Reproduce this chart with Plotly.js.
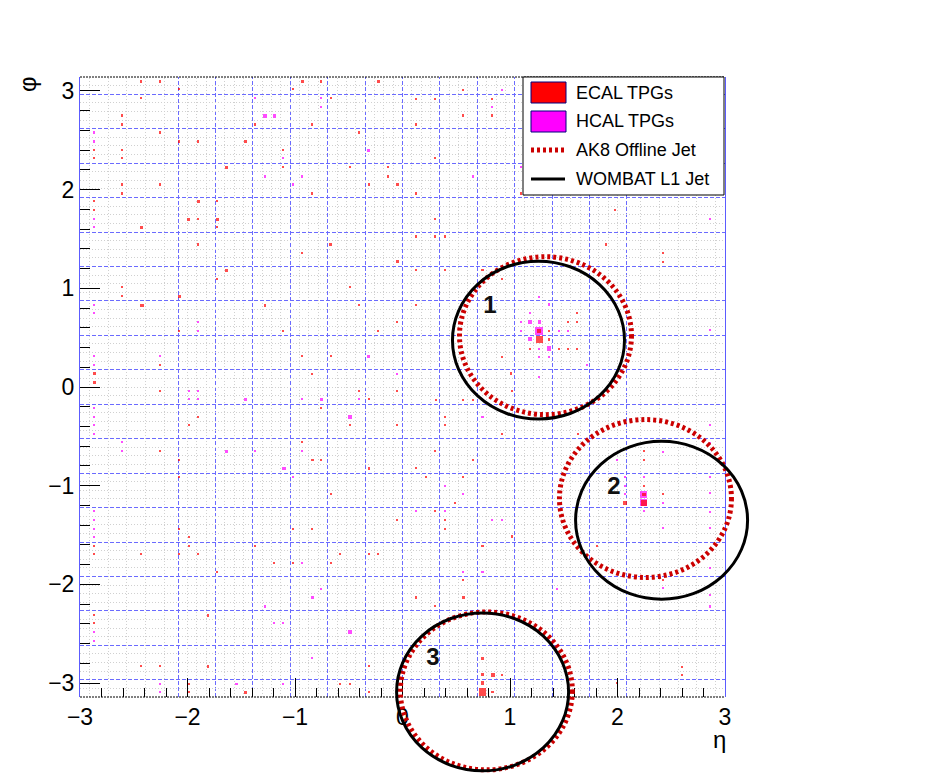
<!DOCTYPE html>
<html>
<head>
<meta charset="utf-8">
<script src="https://cdn.plot.ly/plotly-3.0.1.min.js"></script>
<style>
html,body{margin:0;padding:0;background:#fff;}
#chart{width:948px;height:775px;}
#chart .scatterlayer .point{shape-rendering:crispEdges;}
#chart .layer-subplot .shapelayer path{shape-rendering:crispEdges;}
</style>
</head>
<body>
<div id="chart"></div>
<script>
// ---------------- DATA ----------------
// ECAL trigger primitives: eta, phi, ET (arbitrary units)
const ecalEta = [
  -2.429,-2.253,-0.932,-0.755,-0.225,-2.076,-1.016,-2.429,-0.668,-2.606,
  -2.606,-1.369,-0.839,-2.253,-0.402,-2.076,-1.899,-1.459,-2.867,-2.606,
  -1.109,-2.867,-2.606,-1.636,-1.109,-0.488,-0.132,-0.132,-2.606,-2.253,
  -0.314,-0.048,-2.606,-0.839,-2.867,-1.899,-1.722,-2.867,-1.987,-1.899,
  -1.722,-2.429,-1.722,-1.899,-0.668,-0.932,-0.048,-1.636,-1.722,-2.606,
  -0.488,-2.606,-2.076,-2.423,-1.279,-0.402,-0.048,-2.076,-1.109,-0.225,
  -0.932,-0.668,-2.253,-2.867,-0.839,-2.867,
  -2.253,-0.402,-0.048,-0.314,-0.755,-1.899,-1.987,-0.488,-0.048,-0.932,
  -2.253,-2.076,-0.839,-0.755,-0.314,-2.076,-0.668,-0.048,-2.076,-1.016,
  -0.839,-1.987,-2.867,-1.987,-1.369,-2.867,-2.429,-2.076,-1.899,-0.578,
  -0.314,-0.225,-1.194,-1.016,-0.668,-1.722,-2.867,-1.809,-2.867,-2.429,
  -2.253,-1.809,-0.314,-1.987,-0.578,-0.488,-1.987,-1.459,-0.314,
  0.566,0.126,0.302,0.829,0.566,0.829,0.126,0.302,0.126,1.099,
  1.977,0.302,0.126,0.302,0.395,1.893,2.426,2.426,0.126,0.395,
  0.744,0.923,0.126,
  0.311,0.566,0.653,1.015,0.395,0.395,0.923,0.302,0.653,0.126,
  0.218,0.566,0.488,0.302,0.395,0.395,1.015,0.744,1.636,1.806,
  2.426,2.597,2.597,1.992,0.126,0.302,0.566,0.566,
  1.273,1.273,1.363,1.363,1.186,1.453,1.543,1.620,1.010,0.923,1.620,1.620,1.543,
  2.246,2.246,2.070,2.246,2.426,2.246,2.246,
  0.744,0.744,0.839,0.923,0.744,0.744,0.839
];
const ecalPhi = [
  3.097,3.097,3.097,3.097,3.097,3.016,3.016,2.925,2.925,2.752,
  2.661,2.661,2.661,2.580,2.580,2.489,2.489,2.489,2.398,2.398,
  2.398,2.317,2.317,2.226,2.226,2.226,2.226,2.134,2.053,2.053,
  2.053,2.053,1.962,1.962,1.881,1.881,1.881,1.790,1.699,1.699,
  1.699,1.618,1.618,1.445,1.445,1.354,1.270,1.182,1.091,1.010,
  1.010,0.919,0.919,0.827,0.827,0.827,0.655,0.564,0.564,0.564,
  0.311,0.311,0.220,0.135,0.135,0.047,
  -0.044,-0.044,-0.044,-0.125,-0.216,-0.306,-0.388,-0.388,-0.388,-0.561,
  -0.652,-0.740,-0.740,-0.740,-0.826,-0.915,-1.087,-1.351,-1.442,-1.442,
  -1.442,-1.523,-1.614,-1.614,-1.614,-1.695,-1.695,-1.695,-1.695,-1.695,
  -1.695,-1.695,-1.787,-1.787,-1.787,-1.878,-2.313,-2.313,-2.394,-2.830,
  -2.830,-2.830,-2.830,-3.009,-3.009,-3.009,-3.094,-3.094,-3.094,
  3.013,2.922,2.922,2.922,2.752,2.752,2.661,2.320,1.962,1.962,
  1.790,1.699,1.526,1.526,1.526,1.442,1.358,1.270,1.182,1.182,
  1.182,1.091,0.827,
  -0.128,-0.128,-0.128,-0.044,-0.304,-0.388,-0.480,-0.652,-0.736,-0.821,
  -0.912,-0.912,-1.175,-1.260,-1.351,-1.442,-1.516,-1.614,-0.480,-1.614,
  -1.959,-2.837,-2.915,-2.999,-2.134,-2.222,-1.959,-2.134,
  0.567,0.482,0.567,0.482,0.388,0.388,0.388,0.388,0.140,0.302,0.753,0.659,0.659,
  -1.087,-1.175,-1.175,-1.004,-1.087,-0.736,-0.652,
  -2.752,-2.915,-2.915,-2.915,-2.999,-3.090,-3.090
];
const ecalEt = [
  1,1,1.5,1,1.5,1,1,1,1,1,
  1,1,1,1,1,1,1,1.5,1,1,
  1,1,1,1.5,1,1,1,1,1,1,
  1,2,1,1,1,1.3,1,1,2,1,
  1.3,1.5,1,1,2,1,2,1.5,1,1,
  1,1,1.5,2,1.5,1,1,1,1,1,
  1,1,1,2,1,1.5,
  1,1,1,1,1,1,1,1,1,1,
  1,1,1.3,1,1,1,1,1,1,1,
  1,1,1,1,1,1,1,1,1,1,
  1,1,1,1,1,1,1,1.5,1,1,
  1,1.5,1,1,1,1,1,2.5,1,
  1,1,1,1,1,1,1,1,1,1,
  1,1,1,1,1.5,1.3,1,1,1,1,
  1,1,1,
  1,1,1,1,1,1,1,1,1,1,
  1,1,1,1,1,1,1,1,1,1,
  1,1,1,1,1,1,1,2,
  3.3,10,1,1,1,1,1,1,1.5,1,1,1,1,
  2,7.5,3.3,1,1,1,1,
  1,2,3,1,2.5,13,1.5
];

// HCAL trigger primitives
const hcalEta = [
  -1.369,-0.755,-0.755,-1.279,-1.194,-2.867,-2.867,-0.314,-1.109,-1.279,
  -0.932,-1.016,-2.867,-2.867,-2.867,-2.867,-1.899,-1.899,-2.867,-2.253,
  -0.314,-2.867,-0.048,
  -1.987,-1.899,-1.987,-1.899,-1.459,-0.932,-0.755,-0.402,-2.867,-2.867,
  -0.488,-2.867,-2.867,-2.606,-2.606,-1.636,-1.369,-0.932,-1.102,-1.016,
  -2.867,-2.867,-2.867,-2.867,-0.932,-0.755,-0.839,-1.279,-1.194,-1.109,
  -2.867,-0.488,-2.867,-0.839,-2.253,-1.546,-1.109,-2.253,
  0.923,0.829,1.099,0.659,2.860,1.273,2.860,0.744,0.395,0.566,
  0.126,0.395,0.829,0.923,1.434,0.744,0.566,2.860,2.860,2.860,
  2.860,2.860,2.860,2.860,2.860,2.860,2.426,2.426,2.426,
  1.273,1.186,1.273,1.102,1.186,1.273,1.363,1.453,1.543,1.186,1.102,1.363,1.363,1.273,1.273,1.713,
  2.246,2.246,2.246,2.070,2.070,2.246,2.426,2.070,1.992
];
const hcalPhi = [
  2.925,2.925,2.834,2.746,2.746,2.580,2.489,2.398,2.317,2.134,
  2.134,2.053,1.699,1.618,0.827,0.746,0.655,0.564,0.311,0.311,
  0.311,0.220,0.135,
  -0.044,-0.044,-0.125,-0.125,-0.125,-0.125,-0.125,-0.125,-0.216,-0.306,
  -0.306,-0.388,-0.480,-0.561,-0.652,-0.652,-0.652,-0.652,-0.826,-0.915,
  -1.260,-1.351,-1.442,-1.523,-1.787,-2.050,-2.134,-2.222,-2.394,-2.394,
  -2.486,-2.486,-2.577,-2.749,-3.009,-3.009,-3.009,-3.094,
  3.013,2.834,2.229,2.134,1.699,0.912,0.574,-0.304,-1.004,-1.087,
  -1.260,-1.260,-1.351,-1.351,-2.043,-1.873,-1.873,-0.385,-0.571,-0.909,
  -1.077,-1.263,-1.432,-1.837,-2.107,-2.225,-0.659,-1.432,-2.040,
  0.567,0.659,0.659,0.567,0.482,0.388,0.388,0.567,0.567,0.753,0.659,0.837,0.302,0.302,0.100,0.223,
  -1.087,-1.175,-0.912,-1.004,-0.912,-1.260,-1.175,-1.087,-0.736
];
const hcalEt = [
  1,1,1,2,2,1,1,2,1,1.5,
  1,1,1,1,1,1,1,1,1,1,
  2.5,1,1,
  1,1,1,1,1.5,1,2.5,1,1,1,
  2.5,1,1,1,1,1.5,1,1,2.5,1,
  1,1,1,1,1,1,1.3,1.5,1,1,
  1,3.3,1,1,1,1.3,1,1,
  1,1,1,1,1,1,1,1,1,1,
  1,1,1,1,1,1,1,1,1,1,
  1,1,1,1,1,1,1,1,1,
  13,3.3,2,1,3.3,1,5,1,1,1,1,1,1,1,1,1,
  10,10,1,1,1,1,1,1,1
];

// Jets (eta, phi, cone radius)
const ak8Eta = [1.33, 2.26, 0.78];
const ak8Phi = [0.52, -1.13, -3.08];
const wombatEta = [1.265, 2.41, 0.745];
const wombatPhi = [0.475, -1.35, -3.09];
const jetR = 0.8;
const jetLabels = ['1', '2', '3'];
const jetLabelEta = [0.814, 1.967, 0.284];
const jetLabelPhi = [0.81, -1.023, -2.756];

const legendLabels = ['ECAL TPGs', 'HCAL TPGs', 'AK8 Offline Jet', 'WOMBAT L1 Jet'];

// ---------------- LAYOUT ----------------
const W = 948, H = 775;
const L = 80, R = 725, T = 77, B = 697;       // frame in pixels
const PI = Math.PI;
const pxX = (R - L) / 6, pxY = (B - T) / (2 * PI);
const px = x => x / W, py = y => 1 - y / H;
const FONT = 'Liberation Sans, Arial, Helvetica, sans-serif';

const BLUE = '#6b6bff', GRAY = '#d0d0d0';
const shapes = [];
// region (blue) and tower (gray) boundaries
const step = 0.087;
for (let k = -6; k <= 6; k++) {
  const e = k * 4 * step;
  shapes.push({type:'line', xref:'x', yref:'y', x0:e, x1:e, y0:-PI, y1:PI, layer:'below',
    line:{color:BLUE, width:1, dash:'4px,2px'}});
}
const grayEta = [];
for (let j = 1; j <= 23; j++) if (j % 4 !== 0) grayEta.push(j * step);
[2.217, 2.391, 2.565, 2.739, 2.913].forEach(v => grayEta.push(v));
grayEta.forEach(v => {
  [v, -v].forEach(e => shapes.push({type:'line', xref:'x', yref:'y', x0:e, x1:e, y0:-PI, y1:PI,
    layer:'below', line:{color:GRAY, width:1, dash:'1px,2px'}}));
});
for (let k = -35; k <= 35; k++) {
  const p = k * PI / 36;
  const isRegion = (((k % 4) + 4) % 4) === 2;
  shapes.push({type:'line', xref:'x', yref:'y', x0:-3, x1:3, y0:p, y1:p, layer:'below',
    line:{color: isRegion ? BLUE : GRAY, width:1, dash: isRegion ? '4px,2px' : '1px,2px'}});
}
// top / bottom dotted frame lines
[PI, -PI].forEach(p => shapes.push({type:'line', xref:'x2', yref:'y2', x0:-3, x1:3, y0:p, y1:p,
  layer:'above', line:{color:'#000', width:1, dash:'2px,1px'}}));
// jet cones
ak8Eta.forEach((e, i) => shapes.push({type:'circle', xref:'x2', yref:'y2',
  x0:e - jetR, x1:e + jetR, y0:ak8Phi[i] - jetR, y1:ak8Phi[i] + jetR, layer:'above',
  line:{color:'#cc0000', width:5, dash:'3px,3px'}}));
wombatEta.forEach((e, i) => shapes.push({type:'circle', xref:'x2', yref:'y2',
  x0:e - jetR, x1:e + jetR, y0:wombatPhi[i] - jetR, y1:wombatPhi[i] + jetR, layer:'above',
  line:{color:'#000', width:3}}));
// legend
shapes.push({type:'rect', xref:'paper', yref:'paper', x0:px(523), x1:px(724), y0:py(195), y1:py(77),
  layer:'above', fillcolor:'#fff', line:{color:'#000', width:1}});
shapes.push({type:'rect', xref:'paper', yref:'paper', x0:px(531), x1:px(566), y0:py(103), y1:py(82),
  layer:'above', fillcolor:'#ff0000', line:{color:'#00007f', width:1}});
shapes.push({type:'rect', xref:'paper', yref:'paper', x0:px(531), x1:px(566), y0:py(132), y1:py(111),
  layer:'above', fillcolor:'#ff00ff', line:{color:'#00007f', width:1}});
shapes.push({type:'line', xref:'paper', yref:'paper', x0:px(531), x1:px(564), y0:py(150), y1:py(150),
  layer:'above', line:{color:'#cc0000', width:5, dash:'3px,3px'}});
shapes.push({type:'line', xref:'paper', yref:'paper', x0:px(531), x1:px(565), y0:py(179), y1:py(179),
  layer:'above', line:{color:'#000', width:3}});

const legendY = [92.5, 121.5, 150, 178.5];
const annotations = legendLabels.map((t, i) => ({xref:'paper', yref:'paper', x:px(574), y:py(legendY[i]),
  xanchor:'left', yanchor:'middle', text:t, showarrow:false, font:{family:FONT, size:18, color:'#000'}}));
annotations.push({xref:'paper', yref:'paper', x:px(27), y:py(84), text:'φ', textangle:-90, showarrow:false,
  xanchor:'center', yanchor:'middle', font:{family:FONT, size:24, color:'#000'}});
annotations.push({xref:'paper', yref:'paper', x:px(719), y:py(739), text:'η', showarrow:false,
  xanchor:'center', yanchor:'middle', font:{family:FONT, size:24, color:'#000'}});

const sizeOf = et => 2.2 * Math.sqrt(et);

const traces = [
  {type:'scatter', mode:'markers', x:hcalEta, y:hcalPhi, xaxis:'x', yaxis:'y', name:'HCAL TPGs',
   marker:{symbol:'square', color:'#ff00ff', size:hcalEt.map(sizeOf), line:{width:0}}, hoverinfo:'x+y'},
  {type:'scatter', mode:'markers', x:ecalEta, y:ecalPhi, xaxis:'x', yaxis:'y', name:'ECAL TPGs',
   marker:{symbol:'square', color:'#ff0000', size:ecalEt.map(sizeOf), line:{width:0}}, hoverinfo:'x+y'},
  {type:'scatter', mode:'text', x:jetLabelEta, y:jetLabelPhi, text:jetLabels, xaxis:'x2', yaxis:'y2',
   textposition:'middle center', textfont:{family:FONT, size:24, color:'#111', weight:'bold'}, hoverinfo:'skip'}
];

const axisFont = {family:FONT, size:23, color:'#000'};
const layout = {
  width:W, height:H, margin:{l:0, r:0, t:0, b:0},
  paper_bgcolor:'#fff', plot_bgcolor:'rgba(0,0,0,0)', showlegend:false,
  xaxis:{domain:[px(L), px(R)], range:[-3, 3], anchor:'y', tickmode:'linear', tick0:0, dtick:1,
    ticks:'inside', ticklen:19, tickwidth:1, tickcolor:'#000', showgrid:false, zeroline:false,
    showline:false, tickfont:axisFont, ticklabelstandoff:4,
    minor:{tick0:0, dtick:0.2, ticks:'inside', ticklen:9, tickwidth:1, tickcolor:'#000', showgrid:false},
    fixedrange:true},
  yaxis:{domain:[py(B), py(T)], range:[-PI, PI], anchor:'x', tickmode:'linear', tick0:0, dtick:1,
    ticks:'inside', ticklen:20, tickwidth:1, tickcolor:'#000', showgrid:false, zeroline:false,
    showline:true, linecolor:'#5c5cff', linewidth:1, mirror:true, tickfont:axisFont,
    minor:{tick0:0, dtick:0.2, ticks:'inside', ticklen:10, tickwidth:1, tickcolor:'#000', showgrid:false},
    fixedrange:true},
  xaxis2:{domain:[0, 1], range:[-3 - L / pxX, 3 + (W - R) / pxX], anchor:'y2', visible:false, fixedrange:true},
  yaxis2:{domain:[0, 1], range:[-PI - (H - B) / pxY, PI + T / pxY], anchor:'x2', visible:false, fixedrange:true},
  shapes:shapes, annotations:annotations
};

Plotly.newPlot('chart', traces, layout, {displayModeBar:false, staticPlot:true});
</script>
</body>
</html>
